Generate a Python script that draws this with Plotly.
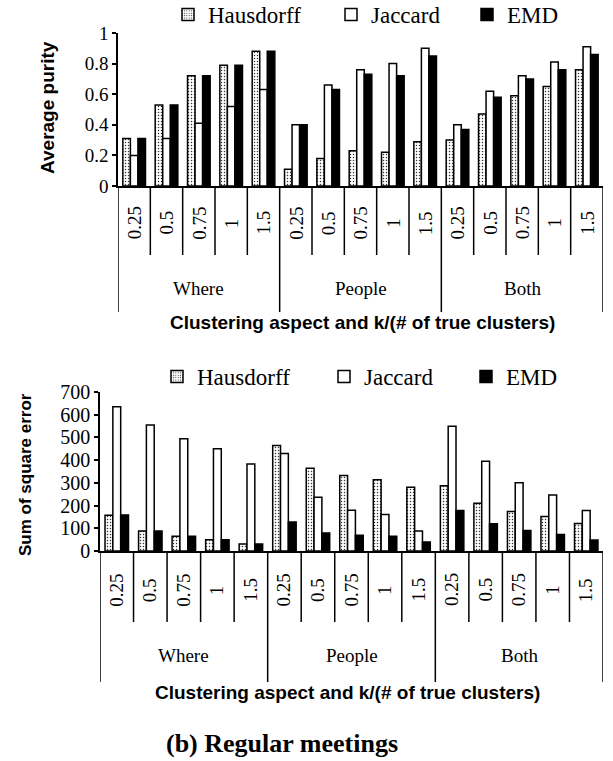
import plotly.graph_objects as go

# ---------------- data ----------------
aspects = ["Where", "People", "Both"]
k_labels = ["0.25", "0.5", "0.75", "1", "1.5"]
series_names = ["Hausdorff", "Jaccard", "EMD"]

purity_hausdorff = [0.31, 0.53, 0.72, 0.79, 0.88, 0.11, 0.18, 0.23, 0.22, 0.29, 0.30, 0.47, 0.59, 0.65, 0.76]
purity_jaccard = [0.20, 0.31, 0.41, 0.52, 0.63, 0.40, 0.66, 0.76, 0.80, 0.90, 0.40, 0.62, 0.72, 0.81, 0.91]
purity_emd = [0.31, 0.53, 0.72, 0.79, 0.88, 0.40, 0.63, 0.73, 0.72, 0.85, 0.37, 0.58, 0.70, 0.76, 0.86]

sse_hausdorff = [157, 88, 65, 50, 31, 464, 364, 332, 314, 281, 287, 210, 174, 152, 121]
sse_jaccard = [635, 555, 494, 450, 383, 429, 237, 179, 161, 88, 549, 395, 301, 247, 178]
sse_emd = [159, 88, 65, 50, 31, 128, 79, 69, 65, 40, 178, 120, 90, 73, 48]

purity_ticks = [0, 0.2, 0.4, 0.6, 0.8, 1]
sse_ticks = [0, 100, 200, 300, 400, 500, 600, 700]

# ---------------- helpers ----------------
positions = list(range(len(aspects) * len(k_labels)))
W, H = 613, 761
SERIF = "Liberation Serif, Times New Roman, serif"
SANS = "Liberation Sans, Arial, sans-serif"

def px_x(p):
    return p / W

def px_y(p):
    return 1 - p / H

styles = [
    dict(color="white", line=dict(color="black", width=1.5),
         pattern=dict(shape=".", fgcolor="#333333", bgcolor="white", size=3, solidity=0.2)),
    dict(color="white", line=dict(color="black", width=1.5)),
    dict(color="black", line=dict(color="black", width=1.5)),
]
top_legend_widths = [118, 91, 55]
bot_legend_widths = [122, 97, 55]

fig = go.Figure()

for vals, name, st, lw in zip([purity_hausdorff, purity_jaccard, purity_emd], series_names, styles, top_legend_widths):
    fig.add_trace(go.Bar(x=positions, y=vals, name=name, marker=st, legendwidth=lw,
                         xaxis="x", yaxis="y", legend="legend"))
for vals, name, st, lw in zip([sse_hausdorff, sse_jaccard, sse_emd], series_names, styles, bot_legend_widths):
    fig.add_trace(go.Bar(x=positions, y=vals, name=name, marker=st, legendwidth=lw,
                         xaxis="x2", yaxis="y2", legend="legend2"))

# domains (pixel-derived)
top_x = [px_x(118), px_x(603)]
top_y = [px_y(186), px_y(33)]
bot_x = [px_x(100), px_x(603)]
bot_y = [px_y(551), px_y(392)]

axis_common = dict(showgrid=False, zeroline=False, linecolor="black", linewidth=1.5, automargin=False)

fig.update_layout(
    template="none",
    width=W, height=H,
    margin=dict(l=0, r=0, t=0, b=0, pad=0, autoexpand=False),
    paper_bgcolor="white", plot_bgcolor="white",
    barmode="group", bargap=0.3, bargroupgap=0,
    xaxis=dict(domain=top_x, range=[-0.5, 14.5], anchor="y", showticklabels=False,
               ticks="", showline=True, **axis_common),
    yaxis=dict(domain=top_y, range=[0, 1], anchor="x", tickvals=purity_ticks,
               ticks="outside", ticklen=4, tickwidth=1.5, tickcolor="black", showline=True,
               tickfont=dict(family=SERIF, size=19, color="black"), **axis_common),
    xaxis2=dict(domain=bot_x, range=[-0.5, 14.5], anchor="y2", showticklabels=False,
                ticks="", showline=True, **axis_common),
    yaxis2=dict(domain=bot_y, range=[0, 700], anchor="x2", tickvals=sse_ticks,
                ticks="outside", ticklen=4, tickwidth=1.5, tickcolor="black", showline=True,
                tickfont=dict(family=SERIF, size=20, color="black"), **axis_common),
    legend=dict(orientation="h", x=px_x(168), y=px_y(-7), xanchor="left", yanchor="top",
                font=dict(family=SERIF, size=23, color="black"),
                bgcolor="rgba(0,0,0,0)", borderwidth=0, traceorder="normal"),
    legend2=dict(orientation="h", x=px_x(157), y=px_y(355), xanchor="left", yanchor="top",
                 font=dict(family=SERIF, size=23, color="black"),
                 bgcolor="rgba(0,0,0,0)", borderwidth=0, traceorder="normal"),
    showlegend=True,
)

shapes = []
annotations = []

def ann(**kw):
    d = dict(showarrow=False, xanchor="center", yanchor="middle")
    d.update(kw)
    annotations.append(d)

def add_category_axis(xref, yref, inner_depth, outer_depth, inner_lab, group_lab, title_y, title_x_center):
    n = len(positions)
    for i in range(n + 1):
        xb = i - 0.5
        outer = (i % len(k_labels) == 0)
        shapes.append(dict(type="line", xref=xref, yref=yref, x0=xb, x1=xb, y0=0,
                           y1=-(outer_depth if outer else inner_depth),
                           line=dict(color="black", width=1.5)))
    for gi, asp in enumerate(aspects):
        for ki, kl in enumerate(k_labels):
            p = gi * len(k_labels) + ki
            ann(x=positions[p], y=-inner_lab, xref=xref, yref=yref, text=kl, textangle=-90,
                font=dict(family=SERIF, size=19, color="black"))
        center = (positions[gi * len(k_labels)] + positions[gi * len(k_labels) + len(k_labels) - 1]) / 2
        ann(x=center, y=-group_lab, xref=xref, yref=yref, text=asp,
            font=dict(family=SERIF, size=19, color="black"))
    ann(x=title_x_center, y=-title_y, xref="paper", yref=yref,
        text="<b>Clustering aspect and k/(# of true clusters)</b>",
        font=dict(family=SANS, size=19, color="black"))

add_category_axis("x", "y domain", 0.451, 0.824, 0.242, 0.667, 0.895, px_x(362))
add_category_axis("x2", "y2 domain", 0.447, 0.824, 0.245, 0.66, 0.893, px_x(347))

ann(x=px_x(47), y=px_y(108), xref="paper", yref="paper", text="<b>Average purity</b>",
    textangle=-90, font=dict(family=SANS, size=19, color="black"))
ann(x=px_x(25), y=px_y(475), xref="paper", yref="paper", text="<b>Sum of square error</b>",
    textangle=-90, font=dict(family=SANS, size=17, color="black"))
ann(x=px_x(282), y=px_y(743), xref="paper", yref="paper", text="<b>(b) Regular meetings</b>",
    font=dict(family=SERIF, size=26, color="black"))

fig.update_layout(shapes=shapes, annotations=annotations)

fig.write_html("out.html", config={"displayModeBar": False},
               post_script="document.body.style.margin='0px';document.body.style.overflow='hidden';")
